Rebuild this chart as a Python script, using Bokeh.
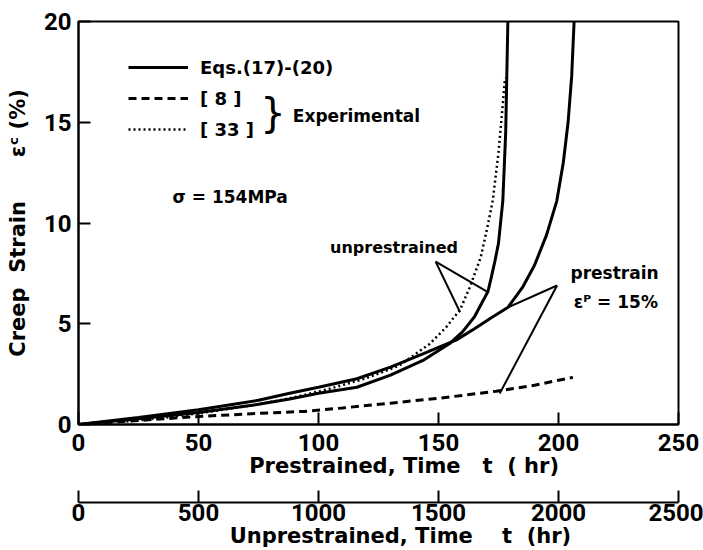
from bokeh.plotting import figure
from bokeh.models import (Range1d, LinearAxis, FixedTicker, Label, Legend,
                          LegendItem, Title)
from bokeh.embed import file_html
from bokeh.resources import INLINE

# ---------------- data ----------------
# Eqs.(17)-(20), prestrained (time: prestrained hr)
pre_eq_t = [0, 25, 50, 75, 88, 100, 116, 130, 143.5, 157.5, 165, 172, 179,
            185, 190, 195, 199.3, 202, 204, 205.5, 206.5]
pre_eq_e = [0, 0.35, 0.73, 1.2, 1.55, 1.85, 2.27, 2.85, 3.5, 4.2, 4.75, 5.3,
            5.82, 6.8, 7.9, 9.4, 11.1, 13, 15, 17.3, 20]
# Eqs.(17)-(20), unprestrained (time: unprestrained hr)
unpre_eq_t = [0, 250, 500, 750, 880, 1000, 1160, 1300, 1435, 1550, 1600, 1650,
              1686, 1706, 1720, 1735, 1750, 1768, 1780, 1789]
unpre_eq_e = [0, 0.28, 0.6, 1.0, 1.27, 1.55, 1.85, 2.45, 3.18, 4.05, 4.6, 5.35,
              6.15, 6.6, 7.3, 8.1, 9.0, 11.1, 14.5, 20]
# Experimental [33], unprestrained (time: unprestrained hr)
exp33_t = [200, 330, 500, 750, 900, 1045, 1200, 1338, 1463, 1530, 1590, 1630,
           1676, 1702, 1726, 1750, 1765, 1777]
exp33_e = [0.15, 0.3, 0.55, 1.0, 1.35, 1.77, 2.3, 2.93, 4.0, 4.8, 5.7, 6.8,
           8.3, 9.7, 11.1, 13.5, 15.5, 17.2]
# Experimental [8], prestrained (time: prestrained hr)
exp8_t = [0, 25, 50, 75, 94, 110, 130, 150, 174, 190, 206]
exp8_e = [0, 0.2, 0.4, 0.55, 0.65, 0.82, 1.06, 1.3, 1.65, 1.95, 2.34]

pre_ticks = [0, 50, 100, 150, 200, 250]
unpre_ticks = [0, 500, 1000, 1500, 2000, 2500]
strain_ticks = [0, 5, 10, 15, 20]

TICKFONT = "Roboto"
FONT = "DejaVu Sans"
NB = "\u00a0"

p = figure(width=703, height=550, output_backend="svg", toolbar_location=None,
           x_range=Range1d(0, 250), y_range=Range1d(0, 20))
p.min_border_left = 78
p.min_border_right = 25
p.min_border_top = 21
p.min_border_bottom = 0
p.extra_x_ranges = {"unpre": Range1d(0, 2500)}
p.grid.visible = False
p.outline_line_color = "black"
p.outline_line_width = 2
p.background_fill_color = "white"
p.border_fill_color = "white"

xa = p.xaxis[0]
xa.ticker = FixedTicker(ticks=pre_ticks)
xa.axis_label = NB * 7 + "Prestrained," + NB + "Time" + NB * 3 + "t" + NB * 2 + "(" + NB + "hr)"
ya = p.yaxis[0]
ya.ticker = FixedTicker(ticks=strain_ticks)
ya.axis_label = "Creep" + NB * 2 + "Strain" + NB * 6 + "\u03b5\u1d9c" + NB + "(%)"

xb = LinearAxis(x_range_name="unpre", ticker=FixedTicker(ticks=unpre_ticks))
xb.axis_label = NB * 6 + "Unprestrained," + NB + "Time" + NB * 4 + "t" + NB * 2 + "(hr)"

for ax in (xa, ya, xb):
    ax.axis_line_width = 2
    ax.axis_line_color = "black"
    ax.major_tick_in = 12
    ax.major_tick_out = 0
    ax.major_tick_line_width = 2
    ax.major_tick_line_color = "black"
    ax.minor_tick_line_color = None
    ax.major_label_text_font = TICKFONT
    ax.major_label_text_font_style = "bold"
    ax.major_label_text_font_size = "24px"
    ax.major_label_text_color = "black"
    ax.axis_label_text_font = FONT
    ax.axis_label_text_font_style = "bold"
    ax.axis_label_text_font_size = "21px"
    ax.axis_label_text_color = "black"
ya.major_label_standoff = 7
ya.axis_label_standoff = 11
xa.major_label_standoff = 9
xa.axis_label_standoff = 0
xb.major_label_standoff = 1
xb.axis_label_standoff = 0

# spacer between the two bottom axes
p.add_layout(Title(text=" ", text_font_size="18px", standoff=0), "below")
p.add_layout(xb, "below")

# curves
r_pre = p.line(pre_eq_t, pre_eq_e, line_color="black", line_width=3)
r_unpre = p.line(unpre_eq_t, unpre_eq_e, line_color="black", line_width=3,
                 x_range_name="unpre")
r_33 = p.line(exp33_t, exp33_e, line_color="black", line_width=2.5,
              line_dash="2 3", x_range_name="unpre")
r_8 = p.line(exp8_t, exp8_e, line_color="black", line_width=3,
             line_dash="8 5")

legend = Legend(items=[
    LegendItem(label="Eqs.(17)-(20)", renderers=[r_pre]),
    LegendItem(label="[ 8 ]", renderers=[r_8]),
    LegendItem(label="[ 33 ]", renderers=[r_33]),
], location=(50, 284), orientation="vertical")
legend.glyph_width = 60
legend.glyph_height = 22
legend.label_height = 22
legend.label_standoff = 12
legend.spacing = 9
legend.padding = 0
legend.margin = 0
legend.border_line_color = None
legend.background_fill_alpha = 0
legend.label_text_font = FONT
legend.label_text_font_style = "bold"
legend.label_text_font_size = "18px"
legend.label_text_color = "black"
p.add_layout(legend)

def lab(x, y, text, size="17px", font=FONT, style="bold", align="left"):
    p.add_layout(Label(x=x, y=y, text=text, text_font=font,
                       text_font_style=style, text_font_size=size,
                       text_baseline="middle", text_align=align,
                       text_color="black"))

lab(81, 15.45, "}", size="40px", style="normal", align="center")
lab(89.3, 15.3, "Experimental")
lab(39.2, 11.3, "\u03c3 = 154MPa")
lab(104.8, 8.8, "unprestrained", size="16px")
lab(205, 7.5, "prestrain")
lab(206.4, 6.07, "\u03b5\u1d3e = 15%")

# leader lines
p.segment(x0=[148.8, 148.8], y0=[8.08, 8.08], x1=[170.6, 159.0], y1=[6.57, 5.57],
          line_color="black", line_width=2)
p.segment(x0=[199.4, 199.4], y0=[6.9, 6.9], x1=[179.0, 175.5], y1=[5.82, 1.54],
          line_color="black", line_width=2)

open("out.html", "w").write(file_html(p, INLINE))
